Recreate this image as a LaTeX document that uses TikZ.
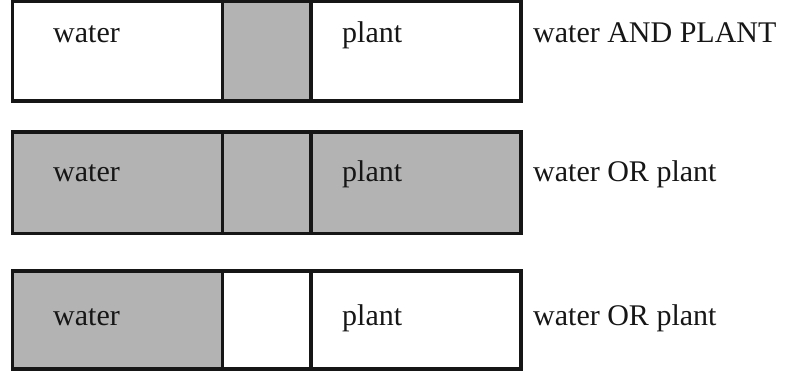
\documentclass[tikz,border=0pt]{standalone}
\usepackage{fontspec}
\setmainfont{Liberation Serif}
\definecolor{ink}{HTML}{161616}
\definecolor{cellgray}{HTML}{B3B3B3}
\begin{document}
\begin{tikzpicture}[x=1pt,y=-1pt,
  frame/.style={draw=ink, line width=3.2pt},
  thindiv/.style={draw=ink, line width=3pt},
  thickdiv/.style={draw=ink, line width=4.6pt},
  greycell/.style={fill=cellgray},
  word/.style={anchor=base west, inner sep=0pt, text=ink,
    font=\fontsize{30}{36}\selectfont}]
\useasboundingbox (0,0) rectangle (805,374);

% column edges of every bar
\def\xl{12.5}\def\xa{222}\def\xb{311}\def\xr{521}

% ---- row 1: water AND PLANT (only the overlap shaded)
\path[greycell] (\xa,1.5) rectangle (\xb,101);
\draw[frame] (\xl,1.5) rectangle (\xr,101);
\draw[thindiv] (\xa,1.5) -- (\xa,101);
\draw[thickdiv] (\xb,1.5) -- (\xb,101);
\node[word] (w1) at (53,43) {water};
\node[word] (p1) at (342,43) {plant};
\node[word] (l1) at (533,43) {water AND PLANT};

% ---- row 2: water OR plant (everything shaded)
\path[greycell] (\xl,132) rectangle (\xr,233.5);
\draw[frame] (\xl,132) rectangle (\xr,233.5);
\draw[thindiv] (\xa,132) -- (\xa,233.5);
\draw[thickdiv] (\xb,132) -- (\xb,233.5);
\node[word] (w2) at (53,182) {water};
\node[word] (p2) at (342,182) {plant};
\node[word] (l2) at (533,182) {water OR plant};

% ---- row 3: only the water part shaded
\path[greycell] (\xl,271) rectangle (\xa,369);
\draw[frame] (\xl,271) rectangle (\xr,369);
\draw[thindiv] (\xa,271) -- (\xa,369);
\draw[thickdiv] (\xb,271) -- (\xb,369);
\node[word] (w3) at (53,325) {water};
\node[word] (p3) at (342,325) {plant};
\node[word] (l3) at (533,325) {water OR plant};
\end{tikzpicture}
\end{document}
